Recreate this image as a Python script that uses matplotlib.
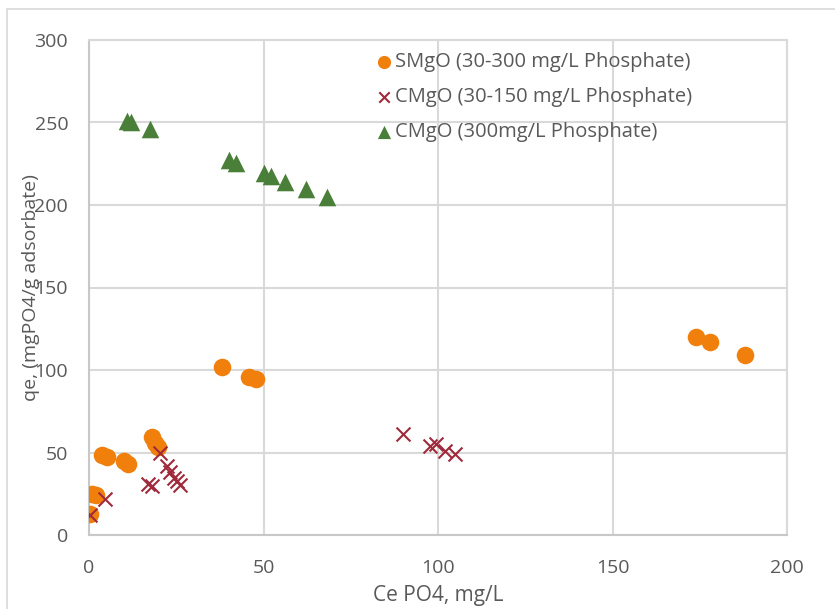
import matplotlib.pyplot as plt
from matplotlib.patches import Rectangle

# SMgO (30-300 mg/L Phosphate)
smgo_ce = [0.3, 1.0, 2.0, 3.8, 5.3, 10.0, 11.3, 18.0, 18.8, 19.8, 38.1, 45.8, 47.8, 174.0, 178.0, 188.0]
smgo_qe = [12.5, 25.0, 24.0, 48.5, 47.0, 45.0, 43.0, 59.5, 56.0, 53.5, 102.0, 96.0, 94.5, 120.0, 117.0, 109.0]

# CMgO (30-150 mg/L Phosphate)
cmgo_low_ce = [0.4, 4.6, 17.0, 18.0, 20.3, 22.3, 23.3, 24.3, 25.2, 26.0, 90.0, 97.8, 99.4, 102.0, 105.0]
cmgo_low_qe = [12.0, 22.0, 31.0, 29.5, 50.0, 42.0, 38.0, 34.5, 32.5, 30.5, 61.0, 54.0, 55.0, 51.0, 49.0]

# CMgO (300mg/L Phosphate)
cmgo_high_ce = [10.9, 12.0, 17.5, 40.0, 42.0, 50.1, 52.2, 56.2, 62.2, 68.2]
cmgo_high_qe = [251.0, 250.5, 246.0, 227.0, 225.5, 219.5, 217.5, 214.0, 210.0, 205.0]

orange = "#F07F0C"
darkred = "#9E2A3B"
green = "#4A7F3A"
text_color = "#595959"
grid_color = "#D9D9D9"

plt.rcParams["font.family"] = ["Open Sans", "DejaVu Sans"]

fig = plt.figure(figsize=(8.35, 6.09), dpi=100)
ax = fig.add_axes([89 / 835, 1 - 535 / 609, (787 - 89) / 835, (535 - 40) / 609])

ax.scatter(smgo_ce, smgo_qe, s=160, marker="o", color=orange, linewidths=0, zorder=3,
           label="SMgO (30-300 mg/L Phosphate)")
ax.scatter(cmgo_low_ce, cmgo_low_qe, s=100, marker="x", color=darkred, linewidths=1.5, zorder=4,
           label="CMgO (30-150 mg/L Phosphate)")
ax.scatter(cmgo_high_ce, cmgo_high_qe, s=160, marker="^", color=green, linewidths=0, zorder=3,
           label="CMgO (300mg/L Phosphate)")

ax.set_xlim(0, 200)
ax.set_ylim(0, 300)
ax.set_xticks([0, 50, 100, 150, 200])
ax.set_yticks([0, 50, 100, 150, 200, 250, 300])
ax.grid(True, color=grid_color, linewidth=1.5)
ax.set_axisbelow(True)
for side in ["top", "right"]:
    ax.spines[side].set_color(grid_color)
    ax.spines[side].set_linewidth(1.5)
for side in ["left", "bottom"]:
    ax.spines[side].set_color("#C8C8C8")
    ax.spines[side].set_linewidth(1.5)
ax.tick_params(length=0, labelsize=14, colors=text_color)
ax.tick_params(axis="x", pad=17)
ax.tick_params(axis="y", pad=15)

ax.set_xlabel("Ce PO4, mg/L", fontsize=15, color=text_color, labelpad=6)
ax.set_ylabel("qe, (mgPO4/g adsorbate)", fontsize=14, color=text_color)
ax.yaxis.set_label_coords(-0.070, 0.50)

leg = ax.legend(loc="upper left", bbox_to_anchor=(0.385, 1.008), frameon=False, fontsize=14.5,
                labelcolor=text_color, handletextpad=0.05, labelspacing=0.75, borderpad=0.3,
                handlelength=1.0, markerscale=0.75)

# outer chart border
fig.patches.append(Rectangle((7 / 835, -0.1), 1.2, 1 - 9 / 609 + 0.1, transform=fig.transFigure,
                             fill=False, edgecolor=grid_color, linewidth=1.2))

fig.savefig("out.png", dpi=100)
